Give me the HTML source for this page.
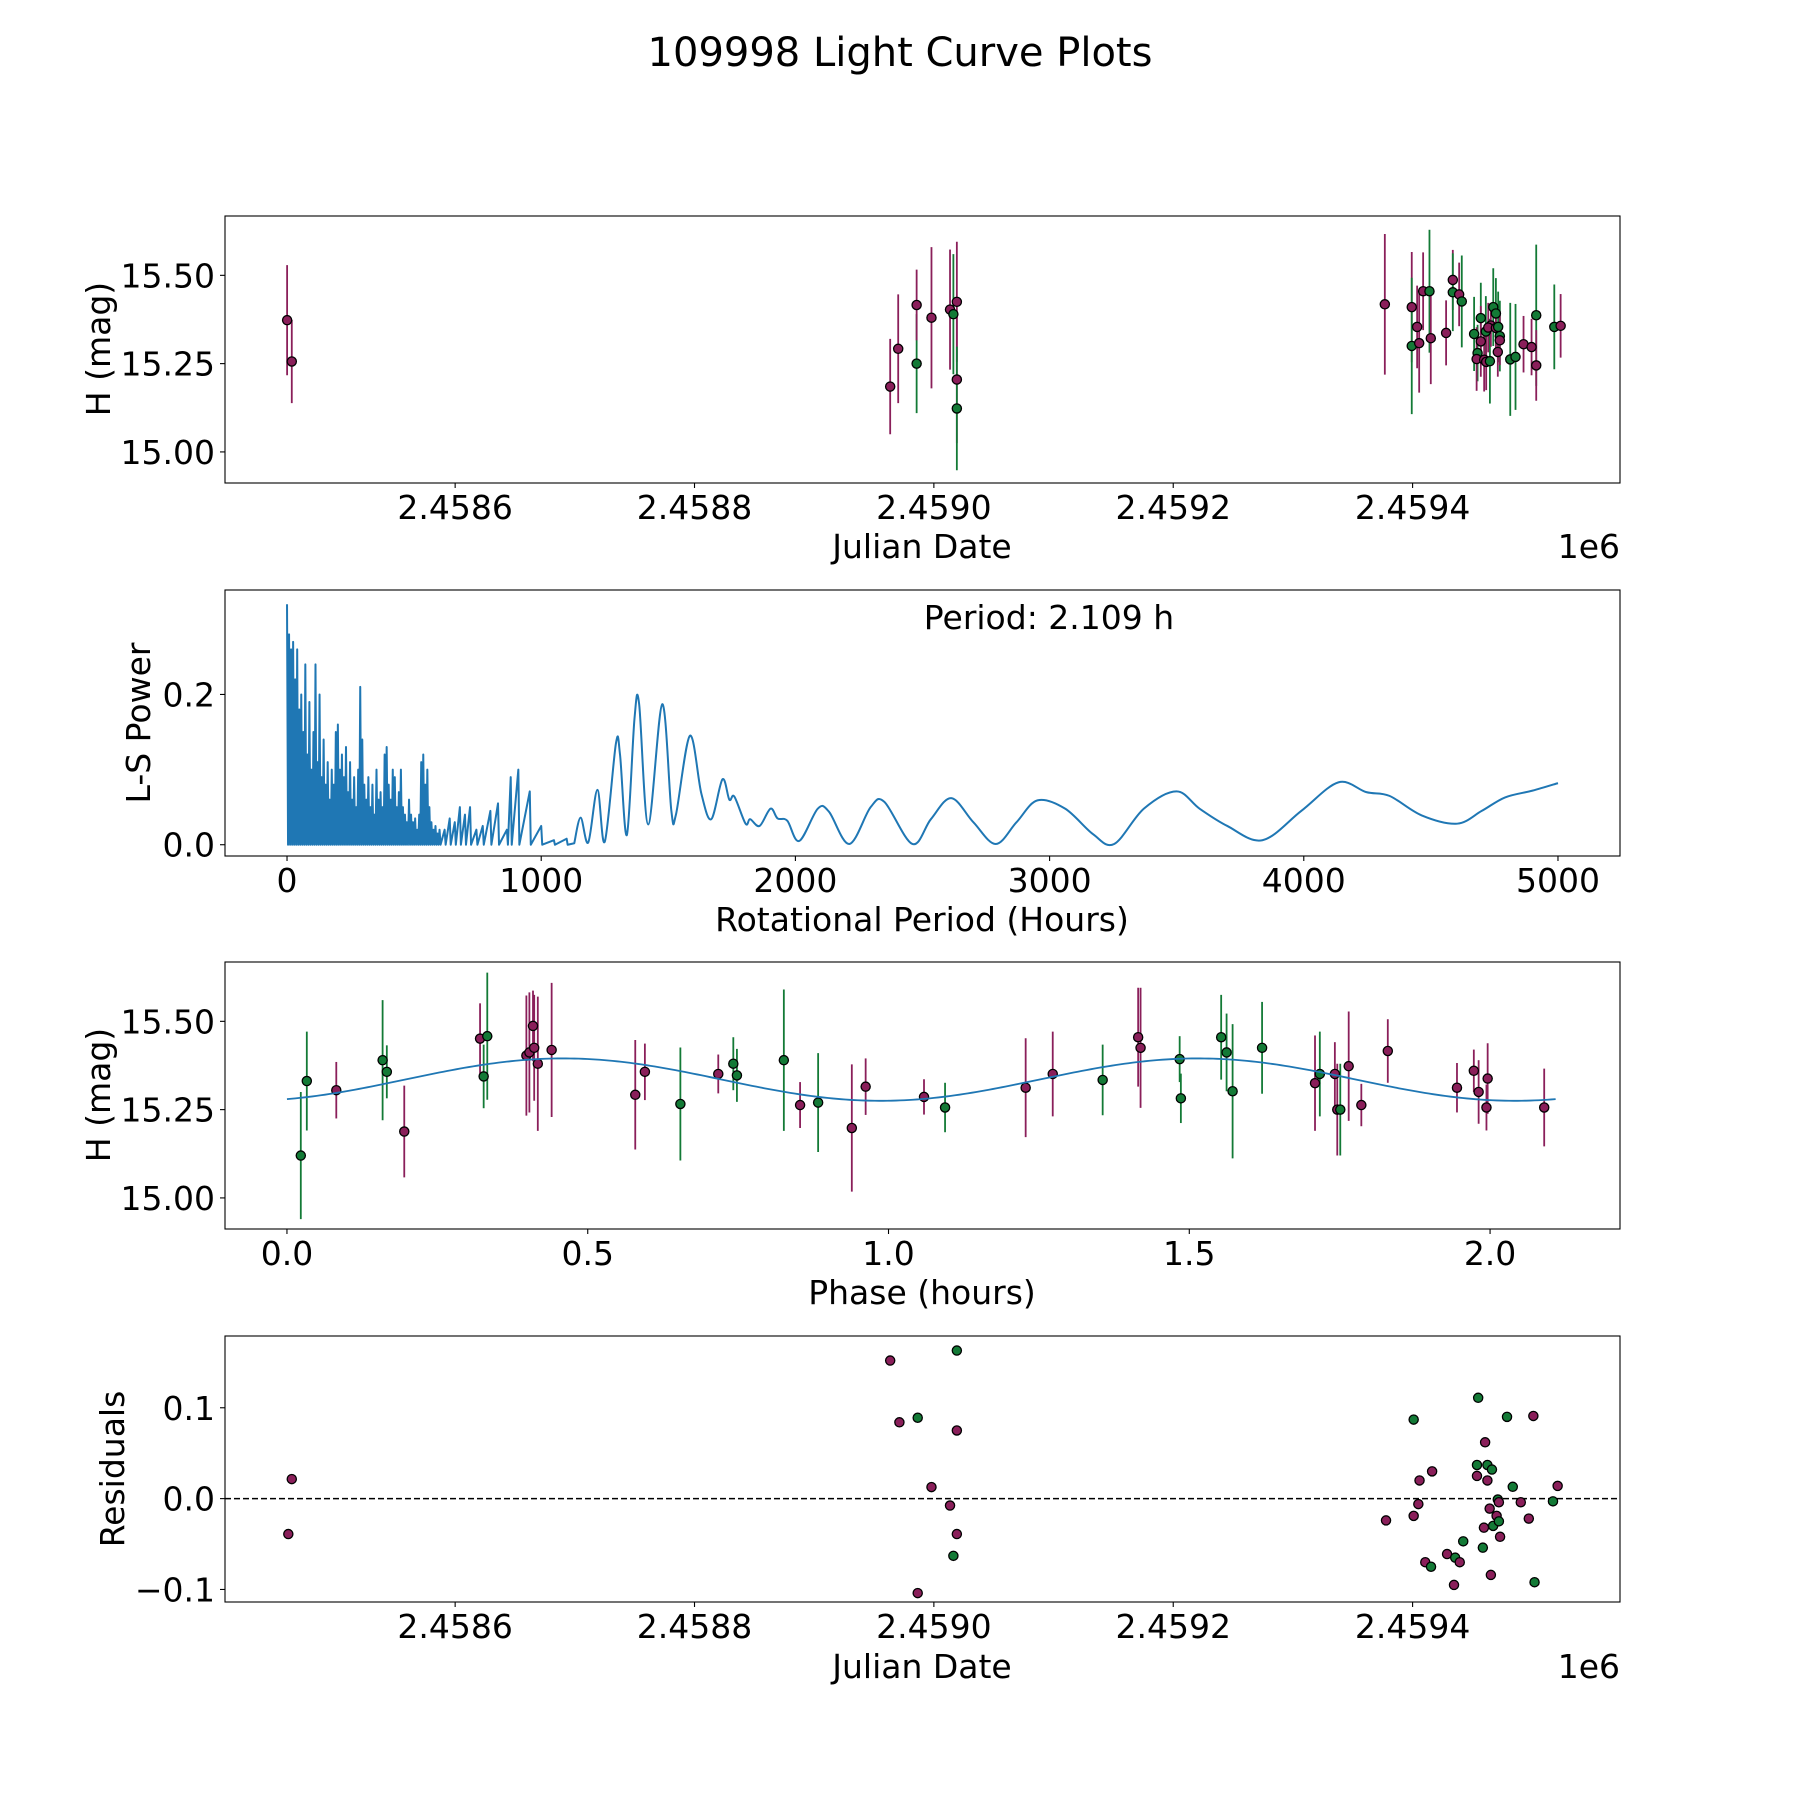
<!DOCTYPE html>
<html><head><meta charset="utf-8"><title>109998 Light Curve Plots</title>
<style>
html,body{margin:0;padding:0;background:#fff;}
svg{display:block;font-family:"DejaVu Sans","Liberation Sans",sans-serif;}
</style></head>
<body>
<svg id="fig" width="1800" height="1800" viewBox="0 0 1800 1800" xmlns="http://www.w3.org/2000/svg">
<rect width="1800" height="1800" fill="#fff"/>
<text x="900" y="66" font-size="40" text-anchor="middle">109998 Light Curve Plots</text>
<g id="g-top"></g>
<g id="g-ls"></g>
<g id="g-ph"></g>
<g id="g-res"></g>
<text x="922" y="558" font-size="33" text-anchor="middle">Julian Date</text>
<text x="1620" y="558" font-size="33" text-anchor="end">1e6</text>
<text transform="translate(110,349) rotate(-90)" font-size="33" text-anchor="middle">H (mag)</text>
<text x="922" y="931" font-size="33" text-anchor="middle">Rotational Period (Hours)</text>
<text transform="translate(150,723) rotate(-90)" font-size="33" text-anchor="middle">L-S Power</text>
<text x="1049" y="629" font-size="33" text-anchor="middle">Period: 2.109 h</text>
<text x="922" y="1304" font-size="33" text-anchor="middle">Phase (hours)</text>
<text transform="translate(110,1095) rotate(-90)" font-size="33" text-anchor="middle">H (mag)</text>
<text x="922" y="1678" font-size="33" text-anchor="middle">Julian Date</text>
<text x="1620" y="1678" font-size="33" text-anchor="end">1e6</text>
<text transform="translate(124,1469) rotate(-90)" font-size="33" text-anchor="middle">Residuals</text>
</svg>
<script>
// ---------- data (JD given as JD - 2458000) ----------
const lcJd = [459.6,463.5,963.5,970.2,985.6,985.6,998,1013.5,1016.3,1019.2,1019.2,1019.2,
 1376.8,1399.3,1399.3,1403.8,1405.5,1408.8,1414.1,1415.2,1428,1433.6,1433.6,1438.9,1441.1,1451.4,1457,1457,1454.3,1453.5,1461.2,1459.8,1461.5,1464.6,1467.4,1469.6,1465.4,1463.2,1469.6,1471.5,1472.9,1472.9,1471.2,1481.6,1486,1492.7,1499.4,1503.3,1503.3,1518.4,1523.7];
const lcMag = [15.373,15.256,15.185,15.292,15.25,15.416,15.38,15.403,15.39,15.425,15.205,15.123,
 15.418,15.41,15.30,15.354,15.308,15.455,15.455,15.322,15.337,15.487,15.452,15.446,15.426,15.334,15.379,15.313,15.28,15.263,15.341,15.261,15.255,15.257,15.41,15.392,15.358,15.352,15.351,15.354,15.328,15.316,15.283,15.262,15.269,15.305,15.297,15.387,15.245,15.354,15.357];
const lcErr = [0.156,0.118,0.135,0.154,0.14,0.1,0.2,0.17,0.17,0.17,0.18,0.175,
 0.199,0.156,0.193,0.117,0.14,0.11,0.174,0.13,0.092,0.085,0.11,0.09,0.13,0.105,0.1,0.1,0.08,0.09,0.1,0.09,0.08,0.12,0.11,0.1,0.06,0.07,0.06,0.1,0.1,0.07,0.07,0.16,0.15,0.08,0.08,0.2,0.1,0.12,0.09];
const lcBand = ['r','r','r','r','g','r','r','r','g','r','r','g',
 'r','r','g','r','r','r','g','r','r','r','g','r','g','g','g','r','g','r','g','r','r','g','g','g','r','r','r','g','g','r','r','g','g','r','r','g','r','g','r'];

const lsSpikePeriod = [0,8,16,24,32,40,48,56,64,72,80,88,96,104,112,120,128,136,144,152,160,168,176,184,192,200,208,216,224,232,240,248,256,264,272,280,288,296,304,312,320,328,336,344,352,360,368,376,384,392,400,408,416,424,432,440,448,456,464,472,480,488,496,504,512,520,528,536,544,552,560,568,576,584,592,600,620,640,660,680,700,720,745,770,800,830,865,880,910,955,1000,1050,1100];
const lsSpikePower = [0.32,0.28,0.26,0.27,0.22,0.26,0.18,0.2,0.15,0.24,0.12,0.19,0.1,0.15,0.24,0.11,0.2,0.09,0.14,0.08,0.11,0.06,0.1,0.08,0.15,0.16,0.1,0.12,0.09,0.13,0.07,0.11,0.06,0.09,0.05,0.1,0.21,0.14,0.08,0.06,0.09,0.05,0.08,0.04,0.1,0.06,0.07,0.05,0.12,0.13,0.08,0.06,0.1,0.09,0.05,0.07,0.1,0.05,0.04,0.03,0.06,0.04,0.03,0.035,0.02,0.04,0.11,0.12,0.08,0.1,0.05,0.03,0.02,0.025,0.015,0.02,0.02,0.035,0.03,0.05,0.04,0.05,0.02,0.025,0.045,0.055,0.02,0.09,0.1,0.071,0.025,0.006,0.008];
const lsCurvePeriod = [1130,1155,1185,1221,1250,1294,1310,1337,1367,1385,1421,1476,1512,1530,1585,1630,1669,1713,1740,1760,1804,1822,1859,1902,1930,1968,2015,2088,2132,2212,2296,2350,2460,2533,2613,2700,2788,2870,2952,3061,3171,3254,3371,3499,3590,3699,3837,3990,4136,4246,4337,4464,4603,4700,4792,4900,5000];
const lsCurvePower = [0.002,0.036,0.003,0.073,0.004,0.135,0.12,0.013,0.168,0.188,0.027,0.187,0.045,0.04,0.145,0.068,0.034,0.087,0.06,0.064,0.028,0.034,0.025,0.048,0.035,0.032,0.005,0.048,0.044,0.001,0.05,0.057,0.001,0.034,0.062,0.03,0.001,0.03,0.059,0.048,0.014,0.001,0.048,0.071,0.048,0.025,0.006,0.045,0.083,0.07,0.065,0.039,0.028,0.045,0.063,0.072,0.082];

const phPhase = [0.023,0.033,0.082,0.159,0.166,0.195,0.321,0.327,0.333,0.398,0.403,0.409,0.411,0.417,0.44,0.579,0.595,0.654,0.717,0.742,0.748,0.826,0.853,0.883,0.939,0.962,1.059,1.094,1.228,1.273,1.356,1.415,1.419,1.484,1.486,1.553,1.562,1.572,1.621,1.709,1.717,1.742,1.746,1.751,1.765,1.786,1.83,1.945,1.973,1.981,1.996,1.994,2.09];
const phMag = [15.12,15.331,15.305,15.39,15.357,15.188,15.451,15.344,15.458,15.403,15.412,15.487,15.425,15.38,15.419,15.292,15.357,15.266,15.351,15.38,15.347,15.39,15.263,15.27,15.198,15.315,15.286,15.256,15.312,15.351,15.334,15.455,15.425,15.393,15.282,15.455,15.412,15.302,15.425,15.325,15.351,15.351,15.25,15.25,15.373,15.263,15.416,15.312,15.36,15.3,15.338,15.256,15.256];
const phErr = [0.18,0.14,0.08,0.17,0.075,0.13,0.1,0.09,0.18,0.17,0.17,0.1,0.15,0.19,0.19,0.155,0.08,0.16,0.055,0.075,0.075,0.2,0.065,0.14,0.18,0.08,0.05,0.07,0.14,0.12,0.1,0.14,0.17,0.065,0.07,0.12,0.11,0.19,0.13,0.135,0.12,0.09,0.13,0.13,0.155,0.06,0.09,0.07,0.06,0.09,0.1,0.065,0.11];
const phBand = ['g','g','r','g','g','r','r','g','g','r','r','r','r','r','r','r','r','g','r','g','g','g','r','g','r','r','r','g','r','r','g','r','r','g','g','g','g','g','g','r','g','r','r','g','r','r','r','r','r','r','r','r','r'];
const modelMean = 15.335, modelAmp = 0.06, modelPeriod = 2.109, modelT0 = 0.196;

const resJd = [460.6,463.5,963.5,971.2,986.5,986.5,998,1013.5,1016.3,1019.2,1019.2,1019.2,1377.8,1400.9,1400.9,1405.8,1404.8,1410.6,1415.4,1416.3,1428.8,1434.6,1435.6,1439.4,1442.3,1453.8,1453.8,1454.8,1458.7,1459.6,1460.6,1462.5,1462.5,1464.4,1466.3,1465.4,1467.3,1470.2,1471.2,1472.1,1472.1,1473.1,1478.9,1483.7,1490.4,1497.1,1500.9,1501.9,1517.3,1521.2];
const resVal = [-0.039,0.0215,0.152,0.084,0.089,-0.104,0.0127,-0.0076,-0.063,0.163,0.075,-0.039,-0.024,0.087,-0.019,0.02,-0.006,-0.07,-0.075,0.03,-0.061,-0.095,-0.065,-0.07,-0.047,0.037,0.025,0.111,-0.054,-0.032,0.062,0.037,0.02,-0.011,0.032,-0.084,-0.03,-0.019,-0.001,-0.004,-0.025,-0.042,0.09,0.013,-0.004,-0.022,0.091,-0.092,-0.003,0.014];
const resBand = ['r','r','r','r','g','r','r','r','g','g','r','r','r','g','r','r','r','r','g','r','r','r','g','r','g','g','r','g','g','r','r','g','r','r','g','r','g','r','g','r','g','r','g','g','r','r','r','g','g','r'];

const jdTicks = [600,800,1000,1200,1400];
const jdTickLabels = ['2.4586','2.4588','2.4590','2.4592','2.4594'];
const magTicks = [15.0,15.25,15.5];
const magTickLabels = ['15.00','15.25','15.50'];
const lsXTicks = [0,1000,2000,3000,4000,5000];
const lsXTickLabels = ['0','1000','2000','3000','4000','5000'];
const lsYTicks = [0,0.2];
const lsYTickLabels = ['0.0','0.2'];
const phTicks = [0,0.5,1,1.5,2];
const phTickLabels = ['0.0','0.5','1.0','1.5','2.0'];
const resTicks = [-0.1,0,0.1];
const resTickLabels = ['\u22120.1','0.0','0.1'];

// ---------- rendering ----------
const NS = 'http://www.w3.org/2000/svg';
const COL = {r:'#8a1f5a', g:'#137a36'};
function mk(tag, attrs, parent){const e=document.createElementNS(NS,tag);for(const k in attrs)e.setAttribute(k,attrs[k]);parent.appendChild(e);return e;}
function axes(x0,x1,y0,y1,xmin,xmax,ymin,ymax){
  return {x0,x1,y0,y1,sx:v=>x0+(v-xmin)/(xmax-xmin)*(x1-x0),sy:v=>y1-(v-ymin)/(ymax-ymin)*(y1-y0)};
}
const A_top = axes(225,1620,216,483,407.7,1573.3,14.912,15.668);
const A_ls = axes(225,1620,590,856,-244,5244,-0.015,0.339);
const A_ph = axes(225,1620,962,1229,-0.103,2.216,14.912,15.668);
const A_res = axes(225,1620,1336,1602,407.7,1573.3,-0.1138,0.179);

function frame(A,g){
  const r = mk('rect',{x:A.x0,y:A.y0,width:A.x1-A.x0,height:A.y1-A.y0,fill:'none',stroke:'#000','stroke-width':1.1},g);
  
  
}
function xticks(A,g,vals,labels){
  vals.forEach((v,i)=>{
    const x=A.sx(v);
    const t=mk('line',{x1:x,x2:x,y1:A.y1,y2:A.y1+5,stroke:'#000','stroke-width':1.1},g);
    
    
    const l=mk('text',{x:x,y:A.y1+36,'font-size':33,'text-anchor':'middle'},g);
    l.textContent=labels[i];
    
    
  });
}
function yticks(A,g,vals,labels){
  vals.forEach((v,i)=>{
    const y=A.sy(v);
    const t=mk('line',{x1:A.x0-5,x2:A.x0,y1:y,y2:y,stroke:'#000','stroke-width':1.1},g);
    
    
    const l=mk('text',{x:A.x0-10,y:y+12,'font-size':33,'text-anchor':'end'},g);
    l.textContent=labels[i];
    
    
  });
}
function errpoints(A,g,xs,ys,es,bands){
  xs.forEach((xv,i)=>{
    const x=A.sx(xv);
    const b=mk('line',{x1:x,x2:x,y1:A.sy(ys[i]+es[i]),y2:A.sy(ys[i]-es[i]),stroke:COL[bands[i]],'stroke-width':1.8},g);
    
    
  });
  xs.forEach((xv,i)=>{
    const c=mk('circle',{cx:A.sx(xv),cy:A.sy(ys[i]),r:4.6,fill:COL[bands[i]],stroke:'#000','stroke-width':1.3},g);
    
    
  });
}

// top panel
const gTop=document.getElementById('g-top');
errpoints(A_top,gTop,lcJd,lcMag,lcErr,lcBand);
frame(A_top,gTop); xticks(A_top,gTop,jdTicks,jdTickLabels); yticks(A_top,gTop,magTicks,magTickLabels);

// periodogram
const gLs=document.getElementById('g-ls');
let d='';
lsSpikePeriod.forEach((p,i)=>{
  d += (i===0?'M':'L')+A_ls.sx(p)+','+A_ls.sy(lsSpikePower[i])+' ';
  d += 'L'+A_ls.sx(p+4)+','+A_ls.sy(0)+' ';
});
// smooth curve (Catmull-Rom through the read points)
const cp = lsCurvePeriod.map((p,i)=>[A_ls.sx(p),A_ls.sy(lsCurvePower[i])]);
d += 'L'+cp[0][0]+','+cp[0][1]+' ';
for(let i=0;i<cp.length-1;i++){
  const p0=cp[Math.max(0,i-1)],p1=cp[i],p2=cp[i+1],p3=cp[Math.min(cp.length-1,i+2)];
  const c1x=p1[0]+(p2[0]-p0[0])/6, c1y=p1[1]+(p2[1]-p0[1])/6;
  const c2x=p2[0]-(p3[0]-p1[0])/6, c2y=p2[1]-(p3[1]-p1[1])/6;
  d += 'C'+c1x+','+c1y+' '+c2x+','+c2y+' '+p2[0]+','+p2[1]+' ';
}
const lsPath=mk('path',{d:d,fill:'none',stroke:'#1f77b4','stroke-width':2,'stroke-linejoin':'round'},gLs);


frame(A_ls,gLs); xticks(A_ls,gLs,lsXTicks,lsXTickLabels); yticks(A_ls,gLs,lsYTicks,lsYTickLabels);

// phase panel
const gPh=document.getElementById('g-ph');
let md='';
for(let k=0;k<=300;k++){
  const t=modelPeriod*k/300;
  const m=modelMean+modelAmp*Math.sin(2*Math.PI*2*(t-modelT0)/modelPeriod);
  md += (k===0?'M':'L')+A_ph.sx(t)+','+A_ph.sy(m)+' ';
}
errpoints(A_ph,gPh,phPhase,phMag,phErr,phBand);
const mPath=mk('path',{d:md,fill:'none',stroke:'#1f77b4','stroke-width':1.8},gPh);


frame(A_ph,gPh); xticks(A_ph,gPh,phTicks,phTickLabels); yticks(A_ph,gPh,magTicks,magTickLabels);

// residuals
const gRes=document.getElementById('g-res');
const zl=mk('line',{x1:A_res.x0,x2:A_res.x1,y1:A_res.sy(0),y2:A_res.sy(0),stroke:'#000','stroke-width':1.6,'stroke-dasharray':'6,3'},gRes);


resJd.forEach((j,i)=>{
  const c=mk('circle',{cx:A_res.sx(j),cy:A_res.sy(resVal[i]),r:4.6,fill:COL[resBand[i]],stroke:'#000','stroke-width':1.3},gRes);
  
  
});
frame(A_res,gRes); xticks(A_res,gRes,jdTicks,jdTickLabels); yticks(A_res,gRes,resTicks,resTickLabels);
</script>
</body></html>
